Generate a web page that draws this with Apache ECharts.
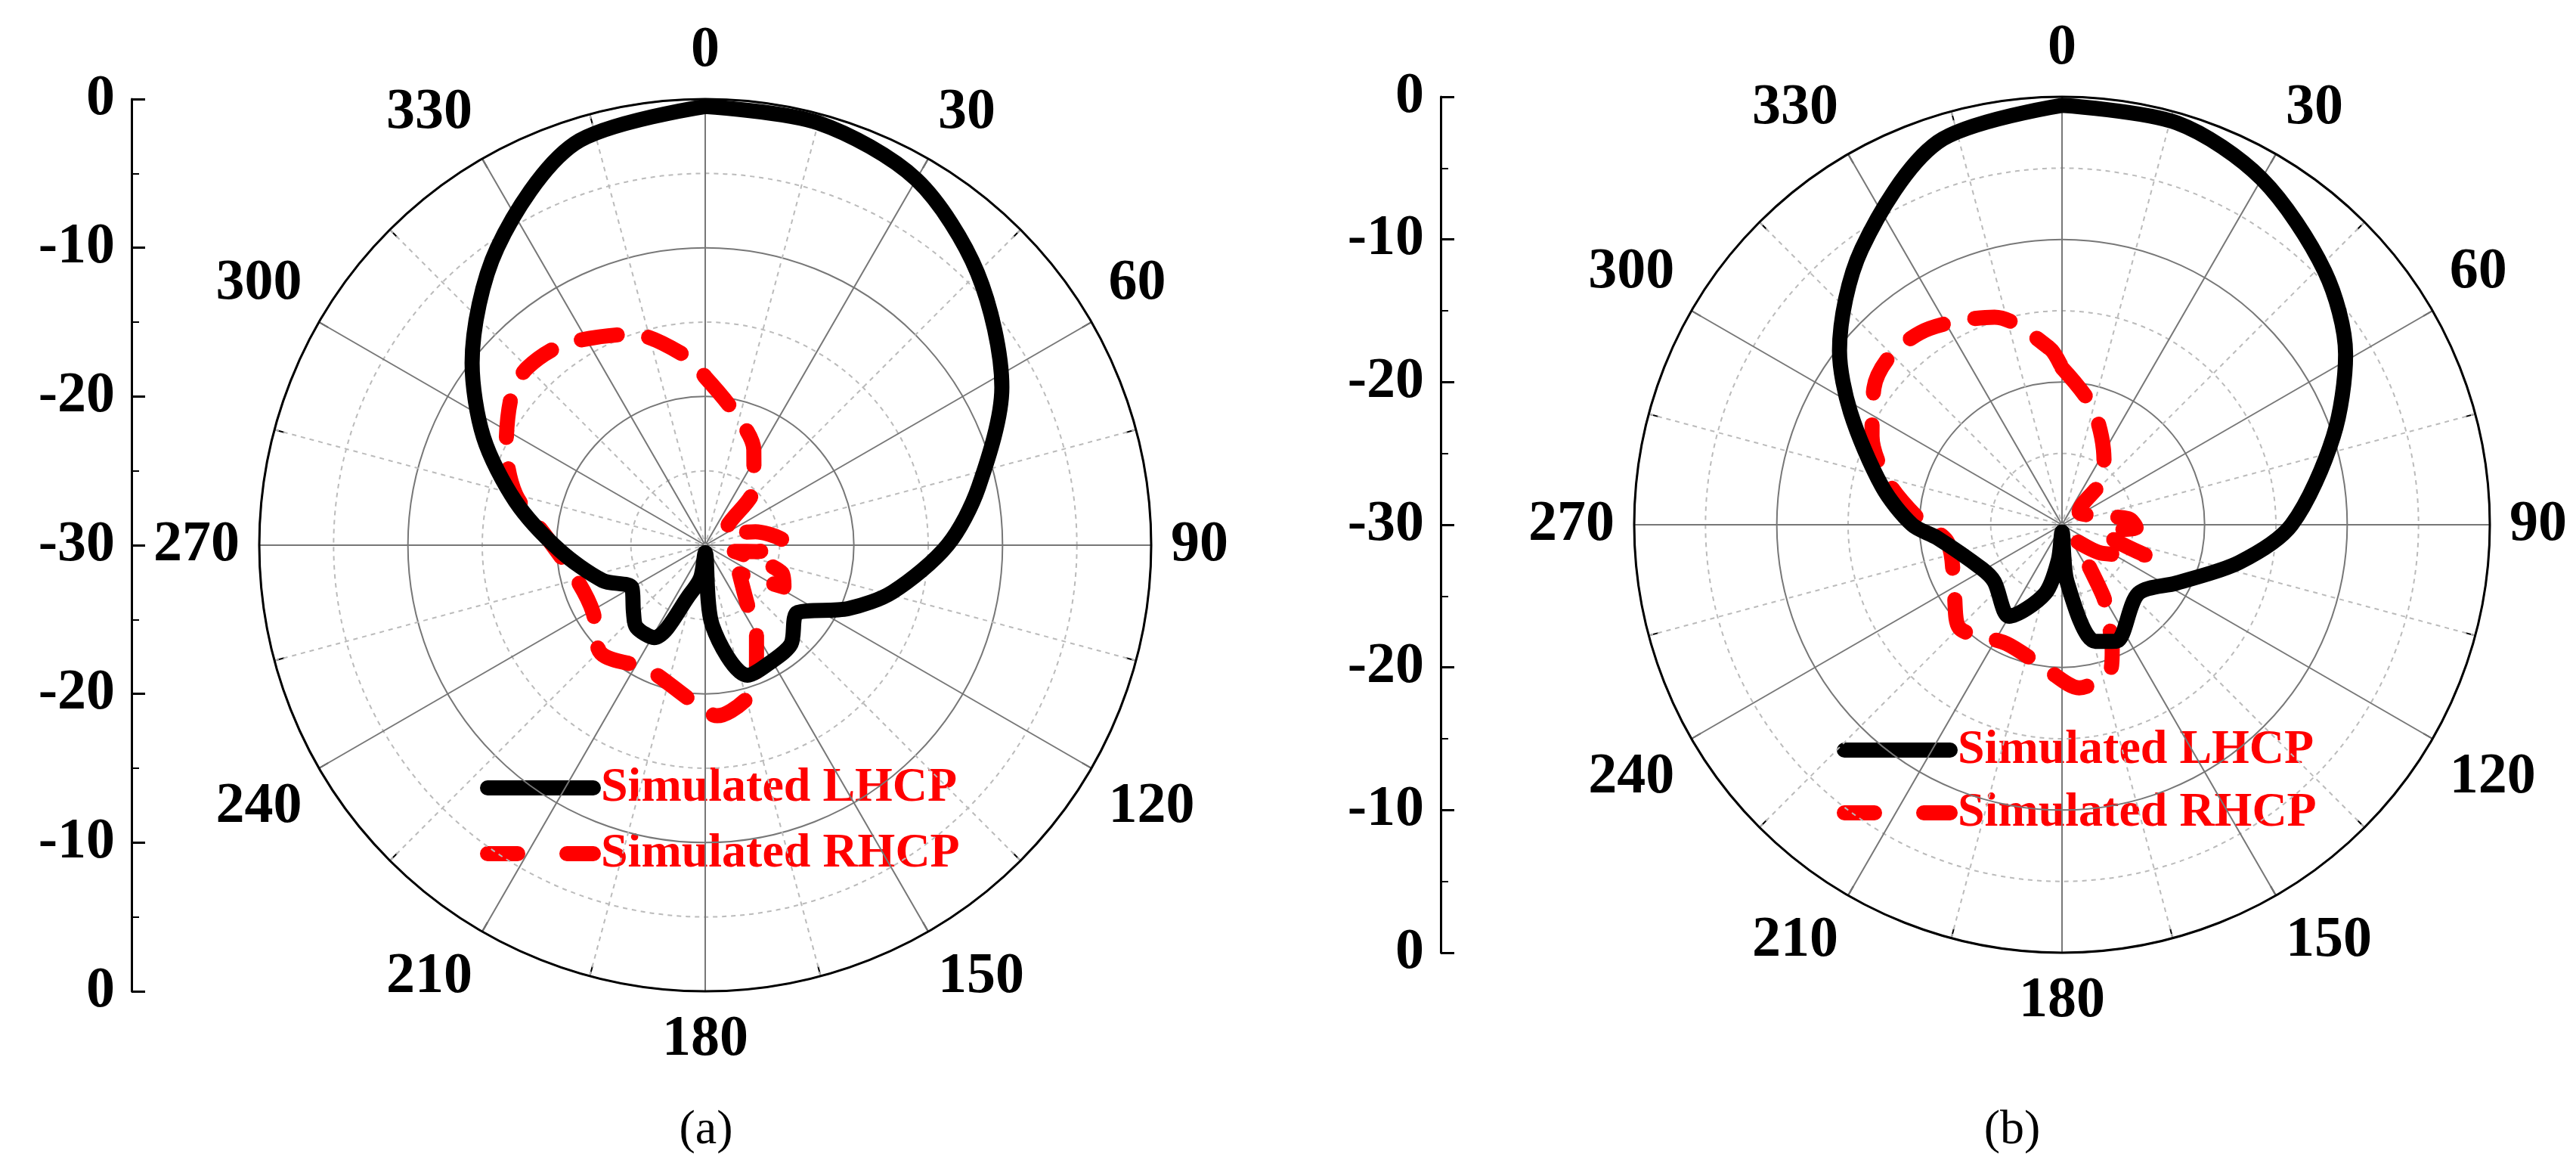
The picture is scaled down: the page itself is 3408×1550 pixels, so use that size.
<!DOCTYPE html>
<html><head><meta charset="utf-8">
<script src="https://cdn.jsdelivr.net/npm/echarts@6/dist/echarts.min.js"></script>
<style>html,body{margin:0;padding:0;background:#fff}#c{width:3408px;height:1550px}</style>
</head><body><div id="c"></div>
<script>
const angleTicks = [0,30,60,90,120,150,180,210,240,270,300,330];
const leftAxisLabels = ['0','-10','-20','-30','-20','-10','0'];
// (a)
const aLhcpAng = [0,15,30,45,62,78,90,104,114,126,139,150,162,175,180,188,197,209,220,227,240,251,268,283,296,308,325,342,360];
const aLhcpVal = [-0.5,-0.6,-1.6,-4.1,-7.4,-11.2,-13.7,-17,-19.5,-22.3,-21.2,-21,-20.8,-24.6,-29.5,-27.8,-26.6,-22.9,-22.8,-23.4,-24.3,-22.7,-20.2,-16.9,-13.4,-10.1,-5.6,-1.6,-0.5];
const aRhcpAng = [0,12,27,40,48,60,75,88,97,102,110,118,130,145,150,158,164,176,185,205,224,239,254,273,285,296,308,315,325,341,354,360];
const aRhcpVal = [-18.7,-20.8,-22.8,-24.9,-27.9,-28.5,-26.5,-24.6,-26.5,-28,-24.5,-24,-27,-25,-23.1,-20.8,-19.4,-18.5,-19.5,-20.8,-19.9,-21.2,-21.1,-19.3,-16.8,-15.1,-13.5,-13.1,-13.5,-15,-17.2,-18.7];
// (b)
const bLhcpAng = [0,16,30,46,59,72,90,102,117,132,155,164,175,180,186,194,210,230,241,264,270,282,298,308,324,342,360];
const bLhcpVal = [-0.6,-0.7,-2,-4.4,-6.8,-10,-13.9,-17.3,-21,-22.8,-21,-21.5,-26,-29.5,-27.5,-25,-22.6,-23.8,-23.6,-21.2,-19.5,-17.1,-13.2,-10.2,-6.1,-1.8,-0.6];
const bRhcpAng = [0,14,29,40,53,70,85,92,100,110,125,139,150,153,158,161,174,186,205,225,237,261,272,284,295,306,315,326,342,356,360];
const bRhcpVal = [-19,-21.4,-24,-25.4,-28.5,-28,-25.3,-24.8,-27,-23.8,-26.5,-28.5,-24.2,-23.1,-20.6,-19.4,-18.5,-19.8,-20.8,-19.8,-21,-21.9,-20,-17.4,-15.3,-13.7,-13.1,-13.4,-14.7,-17.6,-19];

const pairs = (ang, val) => ang.map((a,i)=>[val[i], a]);
const FONT = 'Liberation Serif';
function polarDef(center, r){
  return {center: center, radius: r};
}
function angleAxis(i){
  return {polarIndex:i, type:'value', min:0, max:360, interval:30, startAngle:90, clockwise:true,
    axisLine:{lineStyle:{color:'#000', width:3}},
    axisTick:{show:true, inside:true, length:14, lineStyle:{color:'#000',width:2}},
    minorTick:{show:true, splitNumber:2, length:14, lineStyle:{color:'#000',width:2}},
    splitLine:{show:true, lineStyle:{color:'#777', width:2}},
    minorSplitLine:{show:true, lineStyle:{color:'#bbb', width:2, type:[6,6]}},
    axisLabel:{margin:26, fontFamily:FONT, fontWeight:'bold', fontSize:76, color:'#000',
      formatter:v=> angleTicks.indexOf(v)>=0 ? String(v) : ''}};
}
function radiusAxis(i){
  return {polarIndex:i, type:'value', min:-30, max:0, interval:10,
    axisLine:{show:false}, axisTick:{show:false}, axisLabel:{show:false},
    splitLine:{show:true, lineStyle:{color:'#777', width:2}},
    minorTick:{show:false, splitNumber:2},
    minorSplitLine:{show:true, lineStyle:{color:'#bbb', width:2, type:[6,6]}}};
}
function yAx(i){
  return {gridIndex:i, type:'value', min:0, max:60, interval:10,
    axisLine:{show:true, lineStyle:{color:'#000', width:3}},
    axisTick:{show:true, inside:true, length:18, lineStyle:{color:'#000',width:3}},
    minorTick:{show:true, splitNumber:2, length:10, lineStyle:{color:'#000',width:2}},
    splitLine:{show:false},
    axisLabel:{margin:22, fontFamily:FONT, fontWeight:'bold', fontSize:76, color:'#000',
      formatter:v=> leftAxisLabels[6 - Math.round(v/10)]}};
}
function xAx(i){ return {gridIndex:i, type:'value', show:false}; }
const lh = (d,p)=>({type:'line', coordinateSystem:'polar', polarIndex:p, data:d, showSymbol:false, smooth:0.3,
  lineStyle:{color:'#000', width:20, cap:'round', join:'round'}, z:5});
const rh = (d,p)=>({type:'line', coordinateSystem:'polar', polarIndex:p, data:d, showSymbol:false, smooth:0.3,
  lineStyle:{color:'#ff0000', width:20, type:[48,42], cap:'round', join:'round'}, z:4});

function legend(x, y1, y2){
  return [
    {type:'line', shape:{x1:x, y1:y1, x2:x+140, y2:y1}, style:{stroke:'#000', lineWidth:20, lineCap:'round'}},
    {type:'line', shape:{x1:x, y1:y2, x2:x+140, y2:y2}, style:{stroke:'#f00', lineWidth:20, lineCap:'round', lineDash:[40,65]}},
    {type:'text', x:x+150, y:y1, style:{text:'Simulated LHCP', fill:'#f00', font:'bold 64px "Liberation Serif"', verticalAlign:'middle'}},
    {type:'text', x:x+150, y:y2, style:{text:'Simulated RHCP', fill:'#f00', font:'bold 64px "Liberation Serif"', verticalAlign:'middle'}}
  ];
}
const chart = echarts.init(document.getElementById('c'));
chart.setOption({
  backgroundColor:'#fff', animation:false,
  polar:[polarDef([933,721],590), polarDef([2728,694],566)],
  angleAxis:[angleAxis(0), angleAxis(1)],
  radiusAxis:[radiusAxis(0), radiusAxis(1)],
  grid:[{left:174, top:131, width:1, height:1180}, {left:1906, top:128, width:1, height:1132}],
  xAxis:[xAx(0), xAx(1)],
  yAxis:[yAx(0), yAx(1)],
  series:[
    rh(pairs(aRhcpAng,aRhcpVal),0), lh(pairs(aLhcpAng,aLhcpVal),0),
    rh(pairs(bRhcpAng,bRhcpVal),1), lh(pairs(bLhcpAng,bLhcpVal),1)
  ],
  graphic:[
    ...legend(645,1042,1129),
    ...legend(2440,992,1075),
    {type:'text', x:934, y:1495, style:{text:'(a)', fill:'#000', font:'64px "Liberation Serif"', align:'center', verticalAlign:'middle'}},
    {type:'text', x:2662, y:1495, style:{text:'(b)', fill:'#000', font:'64px "Liberation Serif"', align:'center', verticalAlign:'middle'}}
  ]
});
</script></body></html>
